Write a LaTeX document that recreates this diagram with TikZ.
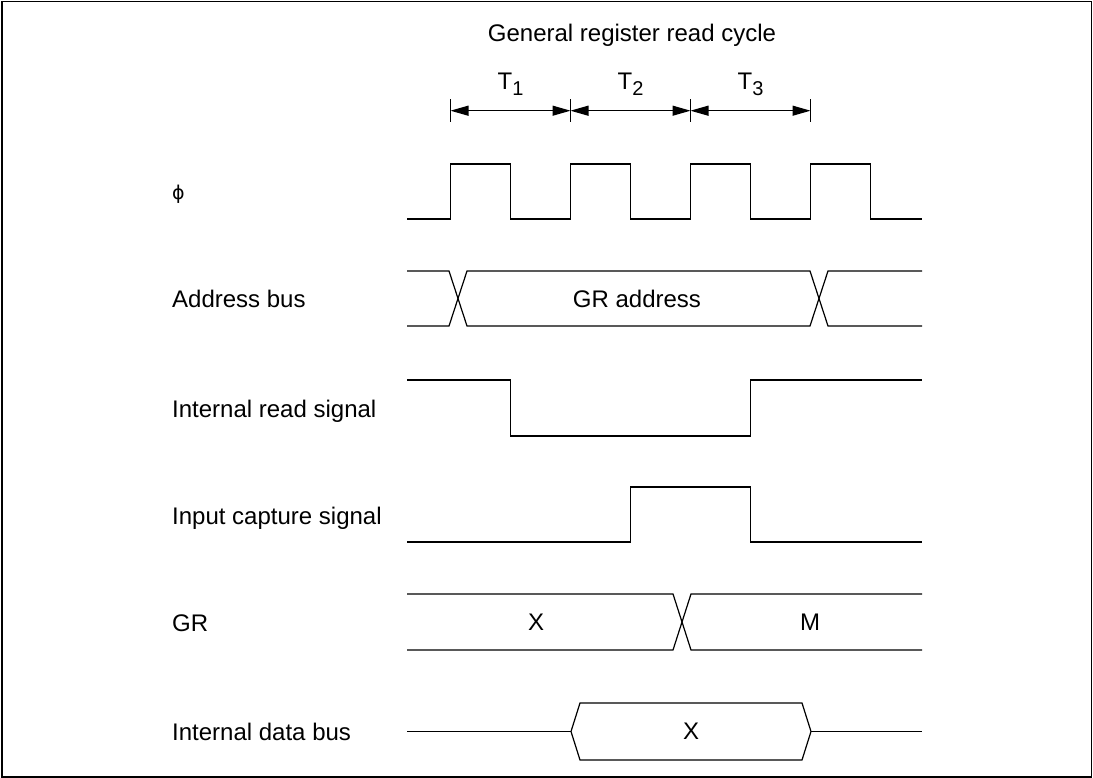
\documentclass[tikz,border=0pt]{standalone}
\usepackage{fontspec}
\setmainfont{Liberation Sans}
\newfontfamily\symfont{DejaVu Sans}
\usetikzlibrary{arrows.meta}

\newcommand{\Tper}[1]{T\raisebox{-6.4pt}{\fontsize{20}{20}\selectfont #1}}

\begin{document}
\begin{tikzpicture}[
  x=1pt, y=-1pt,
  wave/.style={line width=1.2pt, draw=black},
  dim/.style={line width=1.2pt, {Triangle[length=18pt,width=10pt]}-{Triangle[length=18pt,width=10pt]}},
  dimtick/.style={line width=1.2pt},
  lbl/.style={anchor=base west, inner sep=0pt, font=\fontsize{24}{28}\selectfont},
  val/.style={inner sep=0pt, font=\fontsize{24}{28}\selectfont}
]
  \useasboundingbox (0,0) rectangle (1093,778);
  \draw[line width=1.8pt] (2,1.5) rectangle (1091.5,776.8);

  % --- Titel und Taktperioden ---
  \node[val, anchor=base] (title) at (632,41.5) {General register read cycle};

  \coordinate (t0) at (450.5,110.7);
  \coordinate (t1) at (570.5,110.7);
  \coordinate (t2) at (690.5,110.7);
  \coordinate (t3) at (810.5,110.7);

  \draw[dimtick] (t0) ++(0,-11.5) -- ++(0,23);
  \draw[dimtick] (t1) ++(0,-11.5) -- ++(0,23);
  \draw[dimtick] (t2) ++(0,-11.5) -- ++(0,23);
  \draw[dimtick] (t3) ++(0,-11.5) -- ++(0,23);

  \draw[dim] (t0) -- (t1);
  \draw[dim] (t1) -- (t2);
  \draw[dim] (t2) -- (t3);

  \node[val, anchor=base] (T1) at (510.5,89.3) {\Tper{1}};
  \node[val, anchor=base] (T2) at (630.5,89.3) {\Tper{2}};
  \node[val, anchor=base] (T3) at (750.5,89.3) {\Tper{3}};

  % --- Signalnamen ---
  \node[lbl] (phi)  at (172,200)   {\symfont\fontsize{19}{22}\selectfont ϕ};
  \node[lbl] (addr) at (172,307.5) {Address bus};
  \node[lbl] (rd)   at (172,417.3) {Internal read signal};
  \node[lbl] (cap)  at (172,524)   {Input capture signal};
  \node[lbl] (gr)   at (172,631)   {GR};
  \node[lbl] (data) at (172,740.5) {Internal data bus};

  % --- Takt ---
  \draw[wave] (407,219) -- (450.5,219) -- (450.5,164) -- (510.5,164) -- (510.5,219)
    -- (570.5,219) -- (570.5,164) -- (630.5,164) -- (630.5,219)
    -- (690.5,219) -- (690.5,164) -- (750.5,164) -- (750.5,219)
    -- (810.5,219) -- (810.5,164) -- (870.5,164) -- (870.5,219) -- (922,219);

  % --- Adressbus ---
  \draw[wave] (407,271) -- (449,271) -- (467,326) -- (810,326) -- (828,271) -- (922,271);
  \draw[wave] (407,326) -- (449,326) -- (467,271) -- (810,271) -- (828,326) -- (922,326);
  \node[val] (graddr) at (637,298.5) {GR address};

  % --- Lesesignal ---
  \draw[wave] (407,380) -- (510.5,380) -- (510.5,436) -- (750.5,436) -- (750.5,380) -- (922,380);

  % --- Input-Capture-Signal ---
  \draw[wave] (407,542) -- (630.5,542) -- (630.5,487) -- (750.5,487) -- (750.5,542) -- (922,542);

  % --- GR ---
  \draw[wave] (407,594) -- (673,594) -- (691,650) -- (922,650);
  \draw[wave] (407,650) -- (673,650) -- (691,594) -- (922,594);
  \node[val] (grx) at (536,622) {X};
  \node[val] (grm) at (810,622) {M};

  % --- Interner Datenbus ---
  \draw[wave] (407,731.5) -- (571,731.5);
  \draw[wave] (571,731.5) -- (580,703) -- (802,703) -- (811,731.5) -- (802,760) -- (580,760) -- cycle;
  \draw[wave] (811,731.5) -- (922,731.5);
  \node[val] (datax) at (691,731.5) {X};

\end{tikzpicture}
\end{document}
